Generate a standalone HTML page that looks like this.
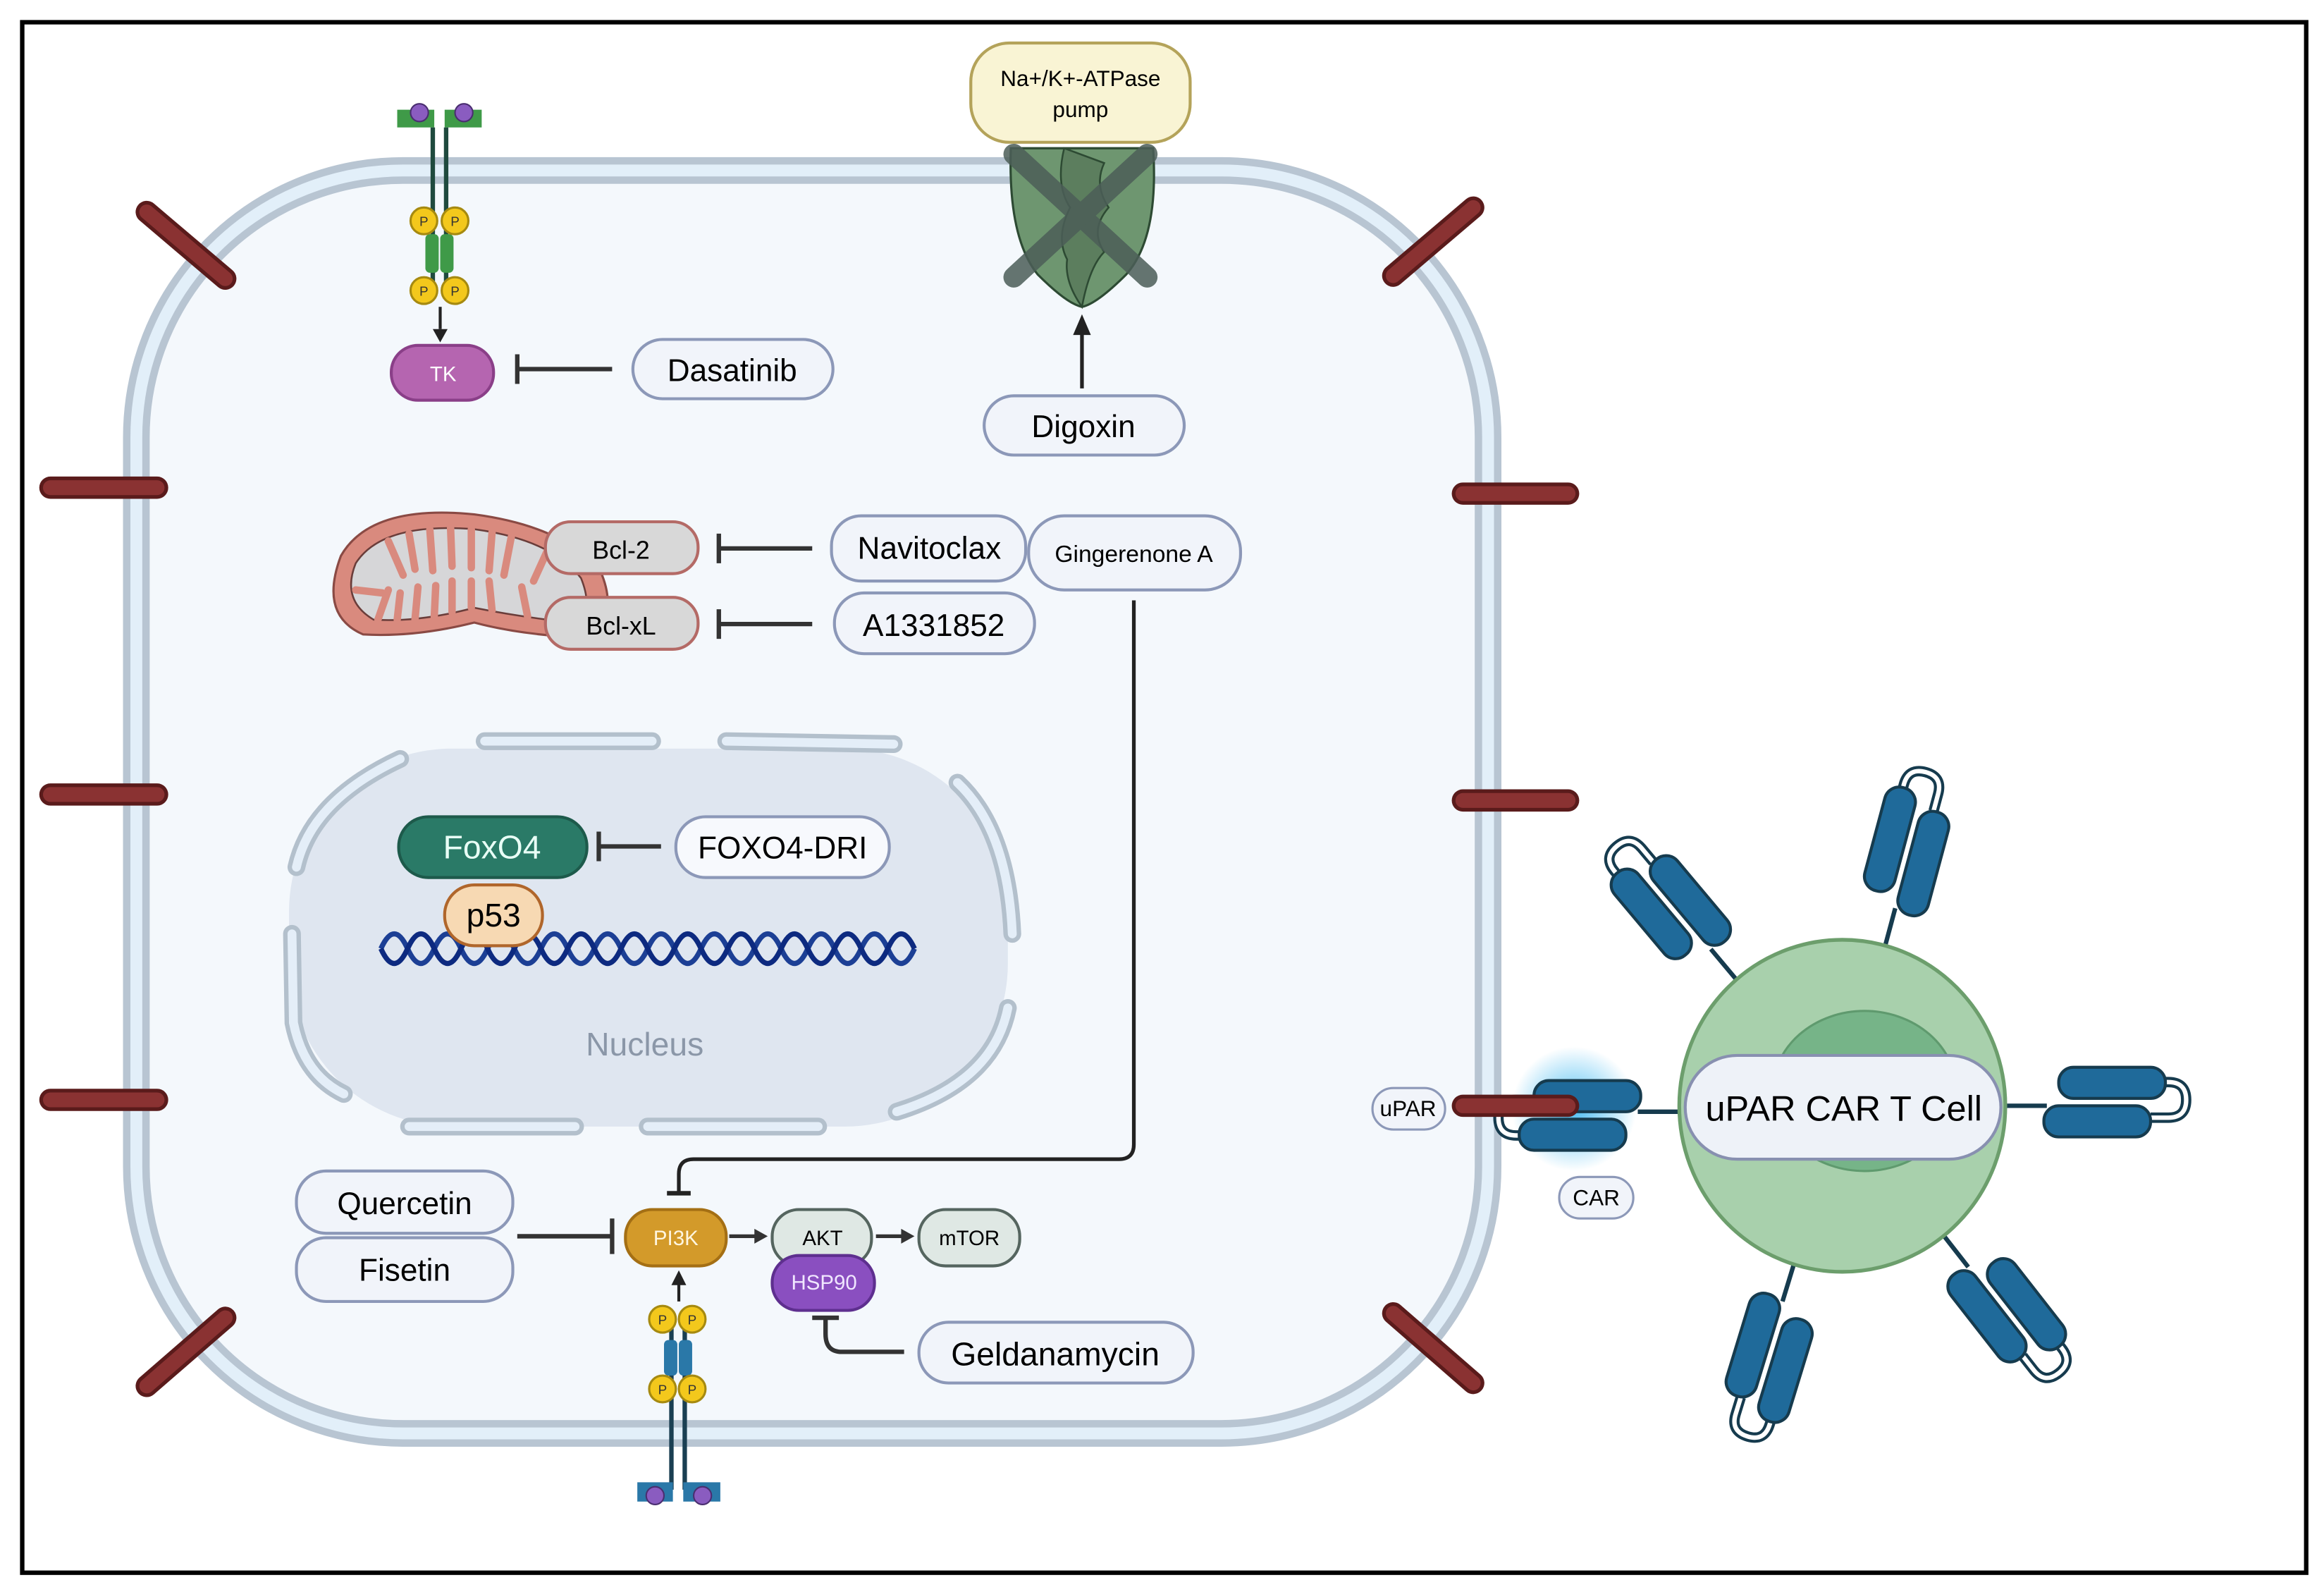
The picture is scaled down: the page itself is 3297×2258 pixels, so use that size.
<!DOCTYPE html>
<html><head><meta charset="utf-8"><style>
html,body{margin:0;padding:0;background:#fff;}
svg{display:block;}
text{font-family:"Liberation Sans",sans-serif;}
</style></head><body>
<svg width="3297" height="2258" viewBox="0 0 1568 1074" preserveAspectRatio="none" xmlns="http://www.w3.org/2000/svg">
<defs>
<radialGradient id="glow"><stop offset="0" stop-color="#3ab6f0" stop-opacity="0.9"/><stop offset="1" stop-color="#3ab6f0" stop-opacity="0"/></radialGradient>
<g id="car">
  <line x1="0" y1="0" x2="0" y2="-30" stroke="#163b4e" stroke-width="3"/>
  <path d="M-16,-40 L-16,-112 Q-16,-124 -4,-124 Q8,-124 8,-112 L8,-100" fill="none" stroke="#163b4e" stroke-width="7"/>
  <path d="M-16,-40 L-16,-112 Q-16,-124 -4,-124 Q8,-124 8,-112 L8,-100" fill="none" stroke="#fff" stroke-width="3"/>
  <rect x="-26" y="-110" width="21" height="72" rx="10" fill="#1f6a9a" stroke="#163b4e" stroke-width="2"/>
  <rect x="0" y="-100" width="21" height="72" rx="10" fill="#1f6a9a" stroke="#163b4e" stroke-width="2"/>
</g>
<g id="pp">
  <circle cx="0" cy="0" r="9" fill="#f3c81c" stroke="#a68a10" stroke-width="1.5"/>
  <text x="0" y="3.5" font-size="9" text-anchor="middle" fill="#333">P</text>
</g>
</defs>
<rect width="1568" height="1074" fill="#fff"/>
<rect x="15" y="15" width="1541" height="1046" fill="#fff" stroke="#000" stroke-width="3"/>

<rect x="92" y="115" width="912" height="852" rx="180" fill="#f4f8fc" stroke="#b8c5d2" stroke-width="18"/>
<rect x="92" y="115" width="912" height="852" rx="180" fill="none" stroke="#e2eff9" stroke-width="8"/>

<g stroke="#5a1b1b" stroke-width="15" stroke-linecap="round">
<line x1="34" y1="329" x2="106" y2="329"/><line x1="34" y1="536" x2="106" y2="536"/><line x1="34" y1="742" x2="106" y2="742"/>
<line x1="987" y1="333" x2="1058" y2="333"/><line x1="987" y1="540" x2="1058" y2="540"/>
<line x1="99" y1="143" x2="152" y2="188"/><line x1="940" y1="186" x2="994" y2="140"/>
<line x1="99" y1="935" x2="152" y2="889"/><line x1="940" y1="886" x2="994" y2="933"/>
</g>
<g stroke="#8a3232" stroke-width="10" stroke-linecap="round">
<line x1="34" y1="329" x2="106" y2="329"/><line x1="34" y1="536" x2="106" y2="536"/><line x1="34" y1="742" x2="106" y2="742"/>
<line x1="987" y1="333" x2="1058" y2="333"/><line x1="987" y1="540" x2="1058" y2="540"/>
<line x1="99" y1="143" x2="152" y2="188"/><line x1="940" y1="186" x2="994" y2="140"/>
<line x1="99" y1="935" x2="152" y2="889"/><line x1="940" y1="886" x2="994" y2="933"/>
</g>

<path d="M268,74 L268,86 L293,86 L293,74 Z M300,74 L300,86 L325,86 L325,74 Z" fill="#3f9a48"/>
<circle cx="283" cy="76" r="6" fill="#8a5cc0" stroke="#4a2e70"/><circle cx="313" cy="76" r="6" fill="#8a5cc0" stroke="#4a2e70"/>
<line x1="292" y1="86" x2="292" y2="200" stroke="#1f4a3e" stroke-width="3"/><line x1="301" y1="86" x2="301" y2="200" stroke="#1f4a3e" stroke-width="3"/>
<rect x="287" y="158" width="9" height="26" rx="3" fill="#3f9a48"/><rect x="297" y="158" width="9" height="26" rx="3" fill="#3f9a48"/>
<use href="#pp" x="286" y="149"/><use href="#pp" x="307" y="149"/><use href="#pp" x="286" y="196"/><use href="#pp" x="307" y="196"/>
<line x1="297" y1="207" x2="297" y2="222" stroke="#222" stroke-width="2"/><polygon points="292,222 302,222 297,231" fill="#222"/>

<rect x="264" y="233" width="69" height="37" rx="18" fill="#b565b0" stroke="#8a3f88" stroke-width="2"/>
<text x="299" y="257" font-size="14" fill="#fff" text-anchor="middle">TK</text>
<line x1="349" y1="249" x2="413" y2="249" stroke="#333" stroke-width="3"/><line x1="349" y1="239" x2="349" y2="259" stroke="#333" stroke-width="3"/>
<rect x="427" y="229" width="135" height="40" rx="20" fill="#f1f4fa" stroke="#8c98b8" stroke-width="2"/>
<text x="494" y="257" font-size="21" text-anchor="middle">Dasatinib</text>

<path d="M682,100 L778,100 Q782,160 760,185 Q740,205 730,207 Q720,205 700,185 Q680,160 682,100 Z" fill="#6e9670" stroke="#2d4a33" stroke-width="1.5"/>
<path d="M718,100 Q712,125 722,140 Q712,160 720,175 Q718,190 730,207 Q735,180 745,170 Q735,155 748,140 Q738,125 745,110 Z" fill="#5c7e5e" stroke="#2d4a33" stroke-width="1.2"/>
<g stroke="#4c5e58" stroke-width="14" stroke-linecap="round" opacity="0.85">
<line x1="684" y1="104" x2="774" y2="187"/><line x1="774" y1="104" x2="684" y2="187"/>
</g>
<rect x="655" y="29" width="148" height="67" rx="26" fill="#f9f4d4" stroke="#b4a35a" stroke-width="2"/>
<text x="729" y="58" font-size="15" text-anchor="middle">Na+/K+-ATPase</text>
<text x="729" y="79" font-size="15" text-anchor="middle">pump</text>
<line x1="730" y1="262" x2="730" y2="225" stroke="#222" stroke-width="2.5"/><polygon points="724,226 736,226 730,212" fill="#222"/>
<rect x="664" y="267" width="135" height="40" rx="20" fill="#f1f4fa" stroke="#8c98b8" stroke-width="2"/>
<text x="731" y="295" font-size="21" text-anchor="middle">Digoxin</text>

<path d="M230,375 Q250,340 320,347 Q380,355 405,385 Q420,420 390,430 Q350,428 320,420 Q280,430 245,428 Q215,415 230,375 Z" fill="#d98a7e" stroke="#8a4a44" stroke-width="1.5"/>
<path d="M240,380 Q258,352 320,357 Q372,364 392,390 Q402,415 385,420 Q350,416 320,410 Q282,420 252,418 Q230,405 240,380 Z" fill="#d6d6d8" stroke="#6a3d3a" stroke-width="1.2"/>
<g stroke="#d98a7e" stroke-width="5" stroke-linecap="round" fill="none">
<path d="M262,365 L272,388"/><path d="M276,360 L280,384"/><path d="M290,357 L292,385"/><path d="M304,356 L305,382"/><path d="M318,357 L318,383"/><path d="M332,359 L330,385"/><path d="M345,362 L340,388"/><path d="M370,370 L360,392"/>
<path d="M255,418 L262,398"/><path d="M268,418 L270,400"/><path d="M280,418 L282,396"/><path d="M293,416 L294,395"/><path d="M305,413 L305,392"/><path d="M318,410 L318,392"/><path d="M332,412 L330,392"/><path d="M356,416 L352,396"/><path d="M240,398 L258,400"/>
</g>
<rect x="368" y="352" width="103" height="35" rx="17" fill="#d8d8d8" stroke="#b46a66" stroke-width="2"/>
<text x="419" y="377" font-size="17" text-anchor="middle">Bcl-2</text>
<rect x="368" y="403" width="103" height="35" rx="17" fill="#d8d8d8" stroke="#b46a66" stroke-width="2"/>
<text x="419" y="428" font-size="17" text-anchor="middle">Bcl-xL</text>
<line x1="485" y1="370" x2="548" y2="370" stroke="#333" stroke-width="3"/><line x1="485" y1="360" x2="485" y2="380" stroke="#333" stroke-width="3"/>
<line x1="485" y1="421" x2="548" y2="421" stroke="#333" stroke-width="3"/><line x1="485" y1="411" x2="485" y2="431" stroke="#333" stroke-width="3"/>
<rect x="561" y="348" width="131" height="44" rx="20" fill="#f1f4fa" stroke="#8c98b8" stroke-width="2"/>
<text x="627" y="377" font-size="21" text-anchor="middle">Navitoclax</text>
<rect x="694" y="348" width="143" height="50" rx="24" fill="#f1f4fa" stroke="#8c98b8" stroke-width="2"/>
<text x="765" y="379" font-size="16" text-anchor="middle">Gingerenone A</text>
<rect x="563" y="400" width="135" height="41" rx="20" fill="#f1f4fa" stroke="#8c98b8" stroke-width="2"/>
<text x="630" y="429" font-size="21" text-anchor="middle">A1331852</text>

<path d="M765,405 L765,772 Q765,782 755,782 L468,782 Q458,782 458,792 L458,805" fill="none" stroke="#222" stroke-width="2.5"/>
<line x1="450" y1="805" x2="466" y2="805" stroke="#222" stroke-width="3"/>

<rect x="195" y="505" width="485" height="255" rx="110" fill="#dfe6f0"/>
<g fill="none" stroke-linecap="round">
<g stroke="#b3c0cc" stroke-width="12">
<path d="M327,500 L440,500"/><path d="M490,500 L603,502"/>
<path d="M270,512 Q210,540 200,585"/><path d="M646,528 Q680,560 683,630"/>
<path d="M197,630 L198,690 Q205,725 232,738"/><path d="M680,680 Q670,730 605,750"/>
<path d="M276,760 L388,760"/><path d="M437,760 L552,760"/>
</g>
<g stroke="#e4eef8" stroke-width="6">
<path d="M327,500 L440,500"/><path d="M490,500 L603,502"/>
<path d="M270,512 Q210,540 200,585"/><path d="M646,528 Q680,560 683,630"/>
<path d="M197,630 L198,690 Q205,725 232,738"/><path d="M680,680 Q670,730 605,750"/>
<path d="M276,760 L388,760"/><path d="M437,760 L552,760"/>
</g>
</g>
<path d="M257,640 q9,-20 18,0 t18,0 t18,0 t18,0 t18,0 t18,0 t18,0 t18,0 t18,0 t18,0 t18,0 t18,0 t18,0 t18,0 t18,0 t18,0 t18,0 t18,0 t18,0 t18,0" fill="none" stroke="#1c3f95" stroke-width="3.5"/>
<path d="M257,640 q9,20 18,0 t18,0 t18,0 t18,0 t18,0 t18,0 t18,0 t18,0 t18,0 t18,0 t18,0 t18,0 t18,0 t18,0 t18,0 t18,0 t18,0 t18,0 t18,0 t18,0" fill="none" stroke="#0d2a80" stroke-width="3.5"/>
<rect x="269" y="551" width="127" height="41" rx="20" fill="#2a7a67" stroke="#1d5a4b" stroke-width="2"/>
<text x="332" y="579" font-size="22" fill="#e8fff6" text-anchor="middle">FoxO4</text>
<rect x="300" y="597" width="66" height="41" rx="20" fill="#f7d9b3" stroke="#b0662b" stroke-width="2"/>
<text x="333" y="625" font-size="22" text-anchor="middle">p53</text>
<line x1="404" y1="571" x2="446" y2="571" stroke="#333" stroke-width="3"/><line x1="404" y1="561" x2="404" y2="581" stroke="#333" stroke-width="3"/>
<rect x="456" y="551" width="144" height="41" rx="20" fill="#f7f9fd" stroke="#8c98b8" stroke-width="2"/>
<text x="528" y="579" font-size="21" text-anchor="middle">FOXO4-DRI</text>
<text x="435" y="712" font-size="22" fill="#8b97a8" text-anchor="middle">Nucleus</text>

<rect x="200" y="790" width="146" height="42" rx="20" fill="#f1f4fa" stroke="#8c98b8" stroke-width="2"/>
<text x="273" y="819" font-size="21" text-anchor="middle">Quercetin</text>
<rect x="200" y="835" width="146" height="43" rx="20" fill="#f1f4fa" stroke="#8c98b8" stroke-width="2"/>
<text x="273" y="864" font-size="21" text-anchor="middle">Fisetin</text>
<line x1="349" y1="834" x2="413" y2="834" stroke="#333" stroke-width="3"/><line x1="413" y1="822" x2="413" y2="846" stroke="#333" stroke-width="3"/>
<rect x="422" y="816" width="68" height="38" rx="18" fill="#d39a2a" stroke="#a46f14" stroke-width="2"/>
<text x="456" y="840" font-size="14" fill="#fff6e0" text-anchor="middle">PI3K</text>
<line x1="492" y1="834" x2="510" y2="834" stroke="#333" stroke-width="2.5"/><polygon points="509,829 509,839 518,834" fill="#333"/>
<rect x="521" y="816" width="67" height="38" rx="18" fill="#dfe8e4" stroke="#55655f" stroke-width="2"/>
<text x="555" y="840" font-size="14" text-anchor="middle">AKT</text>
<line x1="591" y1="834" x2="609" y2="834" stroke="#333" stroke-width="2.5"/><polygon points="608,829 608,839 617,834" fill="#333"/>
<rect x="620" y="816" width="68" height="38" rx="18" fill="#dfe8e4" stroke="#55655f" stroke-width="2"/>
<text x="654" y="840" font-size="14" text-anchor="middle">mTOR</text>
<rect x="521" y="847" width="69" height="37" rx="18" fill="#8a4fc0" stroke="#5e2f8f" stroke-width="2"/>
<text x="556" y="870" font-size="14" fill="#f0e6ff" text-anchor="middle">HSP90</text>
<path d="M610,912 L568,912 Q557,912 557,900 L557,889" fill="none" stroke="#333" stroke-width="3"/>
<line x1="548" y1="889" x2="566" y2="889" stroke="#333" stroke-width="3"/>
<rect x="620" y="892" width="185" height="41" rx="20" fill="#f1f4fa" stroke="#8c98b8" stroke-width="2"/>
<text x="712" y="921" font-size="22" text-anchor="middle">Geldanamycin</text>

<line x1="458" y1="878" x2="458" y2="866" stroke="#222" stroke-width="2"/><polygon points="453,867 463,867 458,857" fill="#222"/>
<line x1="453" y1="890" x2="453" y2="1005" stroke="#1a3f52" stroke-width="3"/><line x1="462" y1="890" x2="462" y2="1005" stroke="#1a3f52" stroke-width="3"/>
<rect x="448" y="904" width="9" height="24" rx="3" fill="#2a78a8"/><rect x="458" y="904" width="9" height="24" rx="3" fill="#2a78a8"/>
<use href="#pp" x="447" y="890"/><use href="#pp" x="467" y="890"/><use href="#pp" x="447" y="937"/><use href="#pp" x="467" y="937"/>
<path d="M430,1000 L430,1013 L454,1013 L454,1000 Z M461,1000 L461,1013 L486,1013 L486,1000 Z" fill="#2a78a8"/>
<circle cx="442" cy="1009" r="6" fill="#8a5cc0" stroke="#4a2e70"/><circle cx="474" cy="1009" r="6" fill="#8a5cc0" stroke="#4a2e70"/>

<circle cx="1062" cy="748" r="42" fill="url(#glow)"/>
<g transform="translate(1243,746)">
  <use href="#car" transform="rotate(-40) translate(0,-108)"/>
  <use href="#car" transform="rotate(15) translate(0,-108)"/>
  <use href="#car" transform="rotate(90) translate(0,-108)"/>
  <use href="#car" transform="rotate(142) translate(0,-108)"/>
  <use href="#car" transform="rotate(197) translate(0,-108)"/>
  <use href="#car" transform="rotate(-90) translate(-4,-108)"/>
</g>
<ellipse cx="1243" cy="746" rx="110" ry="112" fill="#a8d0ac" stroke="#6c9e6c" stroke-width="2.5"/>
<ellipse cx="1258" cy="736" rx="62" ry="54" fill="#76b488" stroke="#5f9a6e" stroke-width="1.5"/>
<line x1="987" y1="746" x2="1058" y2="746" stroke="#5a1b1b" stroke-width="15" stroke-linecap="round"/>
<line x1="987" y1="746" x2="1058" y2="746" stroke="#8a3232" stroke-width="10" stroke-linecap="round"/>
<rect x="1137" y="712" width="213" height="70" rx="35" fill="#eef2f8" stroke="#8890b0" stroke-width="2"/>
<text x="1244" y="756" font-size="24" text-anchor="middle">uPAR CAR T Cell</text>
<rect x="926" y="734" width="49" height="28" rx="14" fill="#f1f4fa" stroke="#8c98b8" stroke-width="1.5"/>
<text x="950" y="753" font-size="15" text-anchor="middle">uPAR</text>
<rect x="1052" y="794" width="50" height="28" rx="14" fill="#f1f4fa" stroke="#8c98b8" stroke-width="1.5"/>
<text x="1077" y="813" font-size="15" text-anchor="middle">CAR</text>
</svg>
</body></html>
